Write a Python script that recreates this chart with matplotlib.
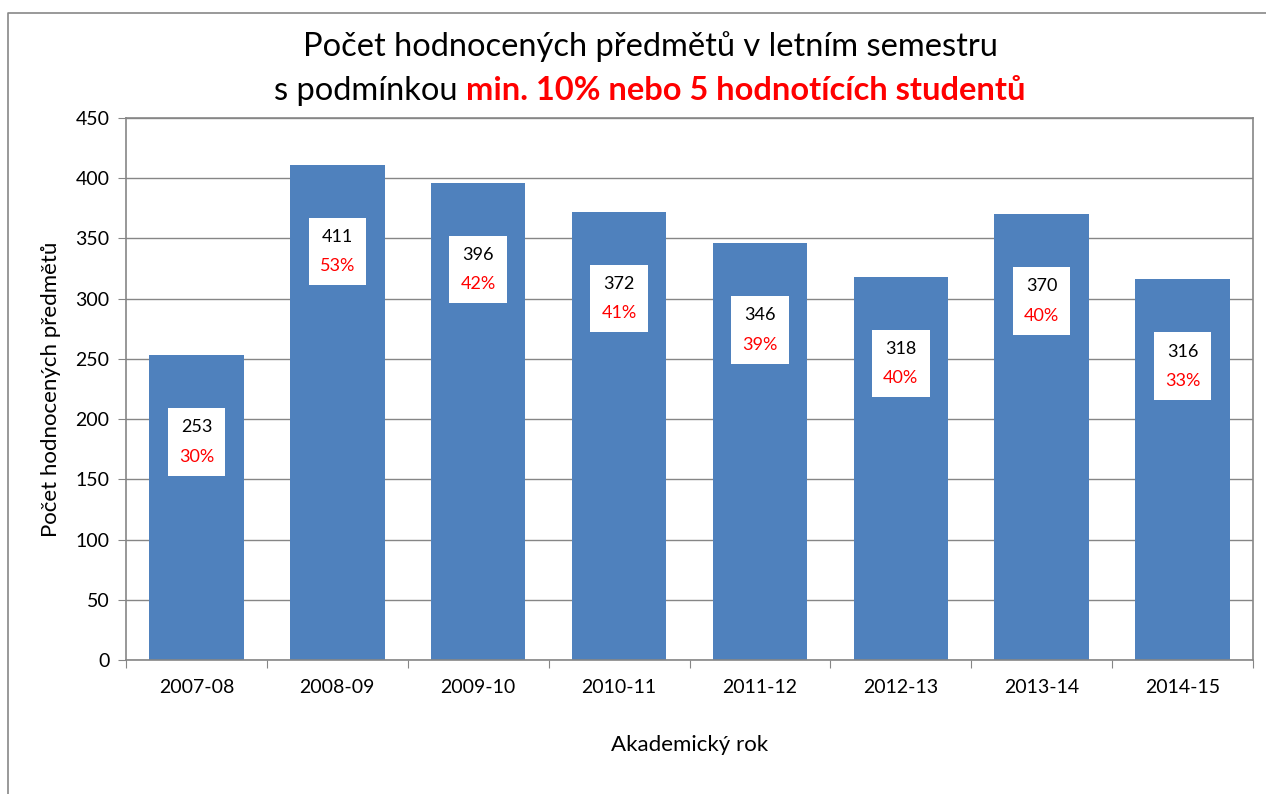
import matplotlib
matplotlib.use('Agg')
import matplotlib.pyplot as plt
from matplotlib.lines import Line2D
from matplotlib.offsetbox import AnnotationBbox, TextArea, VPacker
import numpy as np

years = ['2007-08', '2008-09', '2009-10', '2010-11', '2011-12', '2012-13', '2013-14', '2014-15']
counts = [253, 411, 396, 372, 346, 318, 370, 316]
shares = [30, 53, 42, 41, 39, 40, 40, 33]

W, H = 1266, 794
plt.rcParams['font.family'] = ['Lato', 'DejaVu Sans']

fig = plt.figure(figsize=(W / 100, H / 100), dpi=100)
ax = fig.add_axes([126 / W, 1 - 660 / H, (1253 - 126) / W, (660 - 118) / H])

grey = '#868686'
x = np.arange(len(years))
ax.bar(x, counts, width=0.67, color='#4F81BD', zorder=2)

ax.set_xlim(-0.5, len(years) - 0.5)
ax.set_ylim(0, 450)
ax.set_yticks(np.arange(0, 451, 50))
ax.yaxis.grid(True, color=grey, lw=1, zorder=0)
ax.set_xticks(np.arange(-0.5, len(years), 1))
ax.set_xticklabels([])
ax.set_xticks(x, minor=True)
ax.set_xticklabels(years, minor=True)
ax.tick_params(axis='x', which='major', length=6, color=grey, direction='out')
ax.tick_params(axis='x', which='minor', length=0, pad=14, labelsize=14)
ax.tick_params(axis='y', length=6, color=grey, direction='out', pad=6, labelsize=14)
for s in ax.spines.values():
    s.set_color(grey)
    s.set_linewidth(1.2)

ax.set_ylabel('Počet hodnocených předmětů', fontsize=16, labelpad=10)
ax.set_xlabel('Akademický rok', fontsize=16, labelpad=28)

# value labels: white box, count in black, share in red
for xi, c, p in zip(x, counts, shares):
    num = TextArea(str(c), textprops=dict(color='black', fontsize=13))
    pct = TextArea('{}%'.format(p), textprops=dict(color='red', fontsize=13))
    pack = VPacker(children=[num, pct], align='center', pad=5, sep=9.5)
    ab = AnnotationBbox(pack, (xi, c - 72), frameon=True, pad=0.1, zorder=4,
                        bboxprops=dict(boxstyle='square', fc='white', ec='none'))
    ax.add_artist(ab)

# title, second line mixes plain black and bold red
xc = 650 / W
fig.text(xc, 1 - 47 / H, 'Počet hodnocených předmětů v letním semestru',
         fontsize=23.5, ha='center', va='center')
y2 = 1 - 91 / H
t1 = fig.text(0, y2, 's podmínkou', fontsize=23.5, ha='left', va='center')
t2 = fig.text(0, y2, 'min. 10% nebo 5 hodnotících studentů', fontsize=23.5,
              fontweight='bold', color='red', ha='left', va='center')
fig.canvas.draw()
r = fig.canvas.get_renderer()
w1 = t1.get_window_extent(r).width
w2 = t2.get_window_extent(r).width
gap = 8
x0 = xc * W - (w1 + gap + w2) / 2
t1.set_x(x0 / W)
t2.set_x((x0 + w1 + gap) / W)

# chart frame (top and left edge visible)
fig.add_artist(Line2D([8 / W, 8 / W, 1], [0, 1 - 13 / H, 1 - 13 / H],
                      transform=fig.transFigure, color='#888888', lw=1.2))

fig.savefig('out.png', dpi=100)
